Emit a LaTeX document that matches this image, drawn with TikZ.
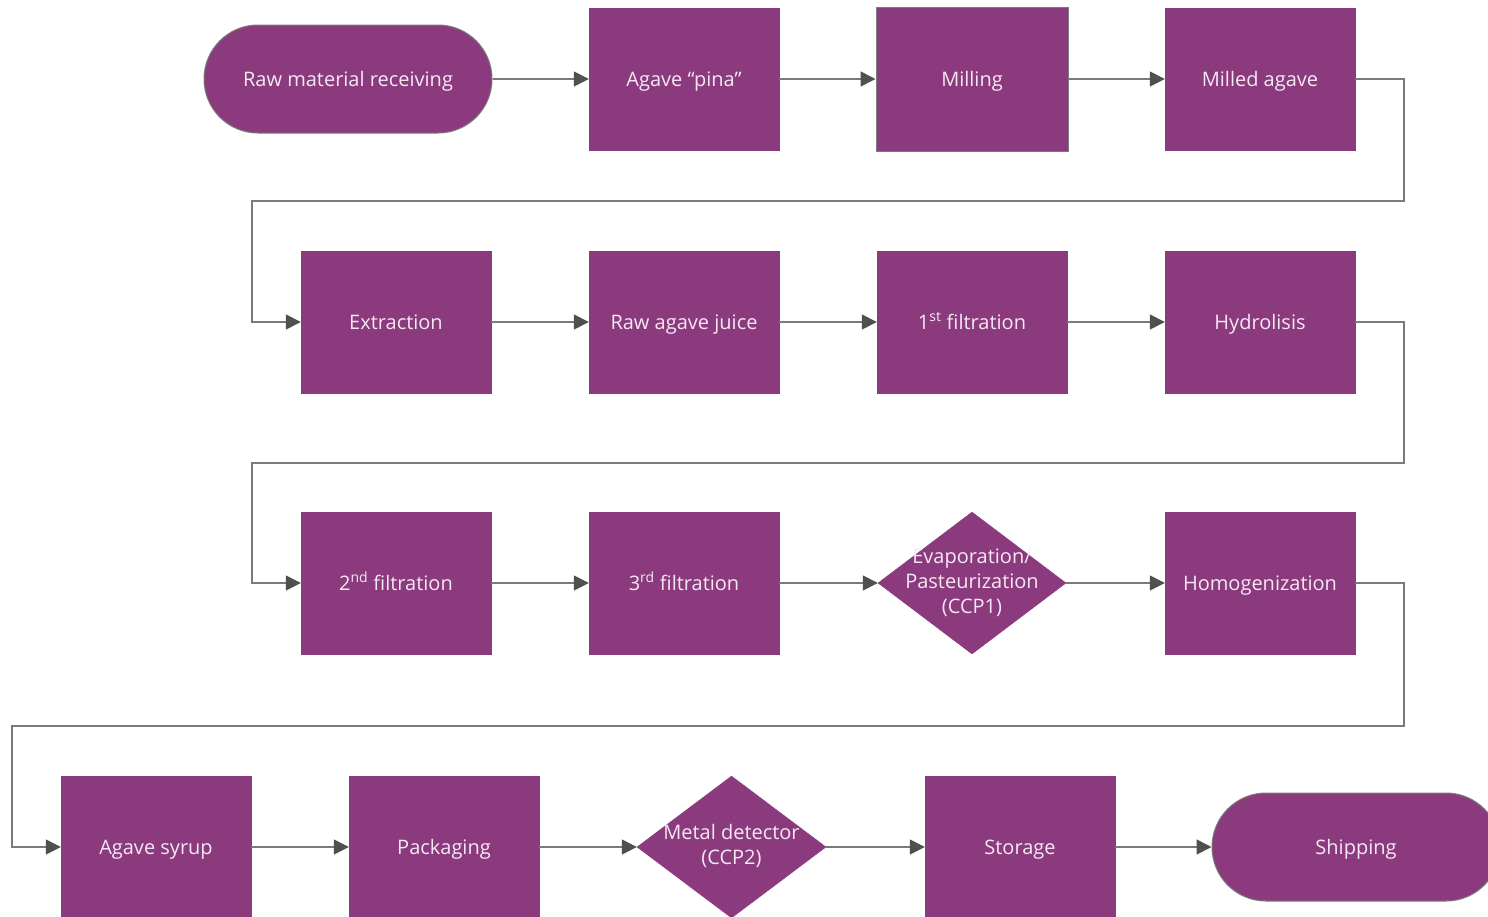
\documentclass[tikz,border=0pt]{standalone}
\usepackage{fontspec}
\setmainfont{Open Sans}
\usetikzlibrary{arrows.meta,shapes.geometric,shapes.misc}
\definecolor{pfill}{HTML}{8B3A7E}
\definecolor{ptext}{HTML}{F6E8F3}
\definecolor{lgray}{HTML}{7A7A7A}
\definecolor{agray}{HTML}{505050}
\tikzset{
  x=1pt,y=-1pt,
  txt/.style={text=ptext,font=\fontsize{20}{25}\selectfont,align=center},
  box/.style={txt,rectangle,fill=pfill,draw=pfill,minimum width=190pt,minimum height=142pt,inner sep=0pt,text height=16pt,text depth=2pt},
  gbox/.style={box,draw=lgray,line width=1pt},
  term/.style={txt,rounded rectangle,fill=pfill,draw=lgray,line width=1pt,minimum width=288pt,minimum height=108pt,inner sep=0pt,text height=16pt,text depth=2pt},
  dia/.style={diamond,fill=pfill,draw=pfill,minimum width=188pt,minimum height=142pt,inner sep=0pt},
  dlab/.style={txt,inner sep=0pt},
  conn/.style={draw=lgray,line width=1.6pt,-{Triangle[length=15pt,width=15pt,fill=agray,color=agray]}},
}
\begin{document}
\begin{tikzpicture}
\useasboundingbox (0,0) rectangle (1488,916);
% row 1
\node[term] (n1) at (348,79) {Raw material receiving};
\node[box] (n2) at (684,79) {Agave “pina”};
\node[gbox,minimum width=192pt,minimum height=144pt] (n3) at (972,79) {Milling};
\node[box] (n4) at (1260,79) {Milled agave};
% row 2
\node[box] (n5) at (396,322) {Extraction};
\node[box] (n6) at (684,322) {Raw agave juice};
\node[box] (n7) at (972,322) {1\textsuperscript{st} filtration};
\node[box] (n8) at (1260,322) {Hydrolisis};
% row 3
\node[box] (n9) at (396,583) {2\textsuperscript{nd} filtration};
\node[box] (n10) at (684,583) {3\textsuperscript{rd} filtration};
\node[dia,label={[dlab]center:Evaporation/\\Pasteurization\\(CCP1)}] (n11) at (972,583) {};
\node[box] (n12) at (1260,583) {Homogenization};
% row 4
\node[box] (n13) at (156,847) {Agave syrup};
\node[box] (n14) at (444,847) {Packaging};
\node[dia,minimum width=189pt,label={[dlab,yshift=1pt]center:Metal detector\\(CCP2)}] (n15) at (731.5,847) {};
\node[box] (n16) at (1020,847) {Storage};
\node[term] (n17) at (1356,847) {Shipping};
% corner coordinates
\coordinate (a1) at (1404,79);
\coordinate (a2) at (1404,201);
\coordinate (a3) at (252,201);
\coordinate (a4) at (252,322);
\coordinate (b1) at (1404,322);
\coordinate (b2) at (1404,463);
\coordinate (b3) at (252,463);
\coordinate (b4) at (252,583);
\coordinate (c1) at (1404,583);
\coordinate (c2) at (1404,726);
\coordinate (c3) at (12,726);
\coordinate (c4) at (12,847);
% connectors
\draw[conn] (n1) -- (n2);
\draw[conn] (n2) -- (n3);
\draw[conn] (n3) -- (n4);
\draw[conn] (n4.east) -- (a1) -- (a2) -- (a3) -- (a4) -- (n5.west);
\draw[conn] (n5) -- (n6);
\draw[conn] (n6) -- (n7);
\draw[conn] (n7) -- (n8);
\draw[conn] (n8.east) -- (b1) -- (b2) -- (b3) -- (b4) -- (n9.west);
\draw[conn] (n9) -- (n10);
\draw[conn] (n10) -- (n11);
\draw[conn] (n11) -- (n12);
\draw[conn] (n12.east) -- (c1) -- (c2) -- (c3) -- (c4) -- (n13.west);
\draw[conn] (n13) -- (n14);
\draw[conn] (n14) -- (n15);
\draw[conn] (n15) -- (n16);
\draw[conn] (n16) -- (n17);
\end{tikzpicture}
\end{document}
